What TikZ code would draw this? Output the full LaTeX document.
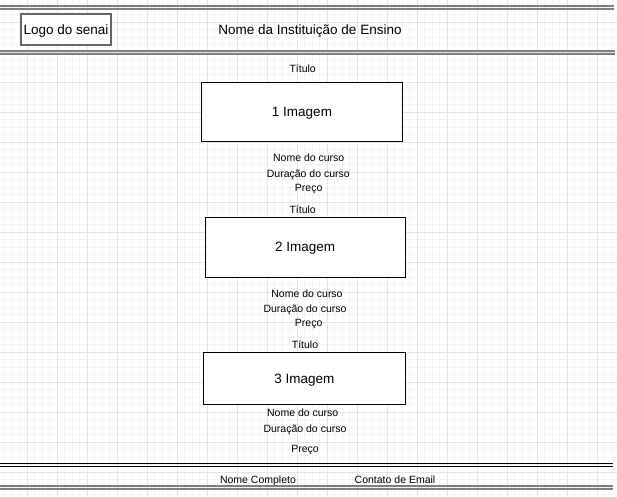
\documentclass[tikz,border=0pt]{standalone}
\usepackage{fontspec}
\setmainfont{Liberation Sans}
\definecolor{linegray}{HTML}{7F7F7F}
\definecolor{gridmaj}{HTML}{E4E4E4}
\definecolor{gridmin}{HTML}{F4F4F4}
\tikzset{
  imgbox/.style={draw=black, fill=white, line width=1.1pt, inner sep=0pt, text depth=0pt, font=\fontsize{13.5}{15}\selectfont},
  logobox/.style={draw=black!60, fill=white, line width=1.2pt, inner sep=0pt, text depth=0pt, minimum width=90pt, minimum height=31pt, font=\fontsize{13.5}{15}\selectfont},
  bigtxt/.style={inner sep=0pt, text depth=0pt, font=\fontsize{13.5}{15}\selectfont},
  txt/.style={inner sep=0pt, text depth=0pt, font=\fontsize{10.5}{12}\selectfont},
  graybar/.style={linegray, line width=1.8pt},
  blackbar/.style={black, line width=1.1pt},
  gridmajor/.style={gridmaj, line width=0.9pt},
  gridminor/.style={gridmin, line width=0.9pt}
}

\begin{document}
\begin{tikzpicture}[x=1pt,y=-1pt]
    \useasboundingbox[fill=white] (0,0) rectangle (617,496);
    %grid
    \foreach \x in {4.5,12,...,617} \draw[gridminor] (\x,0) -- (\x,496);
    \foreach \y in {7,14.5,...,496} \draw[gridminor] (0,\y) -- (617,\y);
    \foreach \x in {27,57,...,617} \draw[gridmajor] (\x,0) -- (\x,496);
    \foreach \y in {22,52,...,496} \draw[gridmajor] (0,\y) -- (617,\y);

    %header
    \draw[graybar] (0,6) -- (614,6);
    \draw[graybar] (0,9) -- (614,9);
    \node[logobox] (logo) at (66,29.5) {Logo do senai};
    \node[bigtxt] (inst) at (310,29.5) {Nome da Instituição de Ensino};
    \draw[graybar] (0,51) -- (615,51);
    \draw[graybar] (0,54) -- (615,54);

    \node[txt] (titulo1) at (302.7,68.3) {Título};
    \node[imgbox, minimum width=200.6pt, minimum height=59.4pt] (img1) at (302,112) {1 Imagem};
    \node[txt] (nome1) at (308.7,157.7) {Nome do curso};
    \node[txt] (dur1) at (308.3,173.3) {Duração do curso};
    \node[txt] (preco1) at (308.7,188.3) {Preço};

    \node[txt] (titulo2) at (302.7,210) {Título};
    \node[imgbox, minimum width=200.3pt, minimum height=60.3pt] (img2) at (305.2,247.2) {2 Imagem};
    \node[txt] (nome2) at (307,293.3) {Nome do curso};
    \node[txt] (dur2) at (305,308.3) {Duração do curso};
    \node[txt] (preco2) at (308.7,323.3) {Preço};

    \node[txt] (titulo3) at (305,345) {Título};
    \node[imgbox, minimum width=202pt, minimum height=52.4pt] (img3) at (304.3,378.5) {3 Imagem};
    \node[txt] (nome3) at (302.7,412.7) {Nome do curso};
    \node[txt] (dur3) at (305,428.3) {Duração do curso};
    \node[txt] (preco3) at (305,449.3) {Preço};

    %footer
    \draw[blackbar] (0,463.3) -- (613,463.3);
    \draw[blackbar] (0,466.3) -- (613,466.3);
    \node[txt] (nomecompleto) at (258,480) {Nome Completo};
    \node[txt] (email) at (395,480) {Contato de Email};
    \draw[graybar] (0,486) -- (613,486);
    \draw[graybar] (0,489) -- (613,489);
\end{tikzpicture}
\end{document}
